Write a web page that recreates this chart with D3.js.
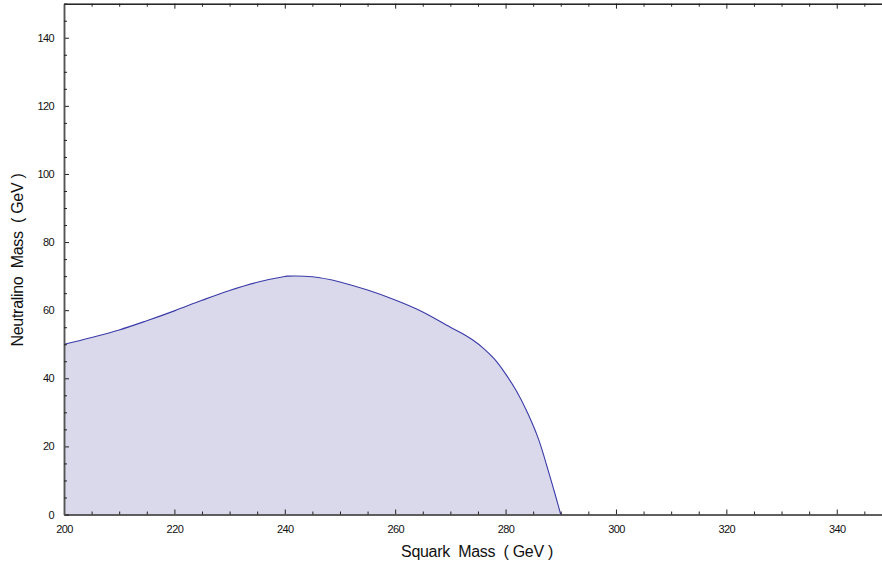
<!DOCTYPE html>
<html><head><meta charset="utf-8">
<script src="https://cdn.jsdelivr.net/npm/d3@7"></script>
<style>body{margin:0;background:#fff}svg{display:block}</style>
</head><body>
<svg id="c" width="882" height="562"></svg>
<script>
// Boundary of the excluded region (Squark mass, Neutralino mass) in GeV
const squarkMass = [200, 205, 210, 215, 220, 225, 230, 235, 240, 240.5, 245, 250, 255, 260, 265, 270, 272, 274, 276, 278, 280, 282, 284, 286, 288, 289, 290];
const neutralinoMass = [50, 52.0, 54.2, 56.9, 59.8, 62.9, 65.8, 68.2, 69.9, 70.0, 69.8, 68.3, 65.9, 63.0, 59.5, 55.0, 53.3, 51.3, 48.8, 45.6, 41.3, 36.2, 29.8, 22.0, 11.4, 5.8, 0];
const xMajorTicks = [200, 220, 240, 260, 280, 300, 320, 340];
const yMajorTicks = [0, 20, 40, 60, 80, 100, 120, 140];
const xTitle = "Squark  Mass  ( GeV )";
const yTitle = "Neutralino  Mass  ( GeV )";

const svg = d3.select("#c");
const x = d3.scaleLinear().domain([200, 348.2]).range([64, 882]);
const y = d3.scaleLinear().domain([0, 150]).range([514.5, 3.7]);

const pts = squarkMass.map((d, i) => [d, neutralinoMass[i]]);
const curve = d3.curveCatmullRom.alpha(0.5);

svg.append("path")
  .datum(pts)
  .attr("fill", "#d9d9eb")
  .attr("d", d3.area().x(d => x(d[0])).y0(y(0)).y1(d => y(d[1])).curve(curve));
svg.append("path")
  .datum(pts)
  .attr("fill", "none")
  .attr("stroke", "#3a3aa8")
  .attr("stroke-width", 1.1)
  .attr("d", d3.line().x(d => x(d[0])).y(d => y(d[1])).curve(curve));

const xMinor = d3.range(200, 350, 5).filter(v => v % 20 !== 0);
const yMinor = d3.range(0, 151, 5).filter(v => v % 20 !== 0);
const fontFam = "'Liberation Sans', Arial, sans-serif";

// bottom axis
const bx = svg.append("g").attr("transform", `translate(0,${y(0)})`);
bx.call(d3.axisBottom(x).tickValues(xMajorTicks).tickSizeInner(-5).tickSizeOuter(0).tickPadding(11));
bx.append("g").call(d3.axisBottom(x).tickValues(xMinor).tickSizeInner(-3).tickSizeOuter(0).tickFormat(""));
// top axis
const tx = svg.append("g").attr("transform", `translate(0,${y(150)})`);
tx.call(d3.axisTop(x).tickValues(xMajorTicks).tickSizeInner(-5).tickSizeOuter(0).tickFormat(""));
tx.append("g").call(d3.axisTop(x).tickValues(xMinor).tickSizeInner(-3).tickSizeOuter(0).tickFormat(""));
// left axis
const ly = svg.append("g").attr("transform", `translate(${x(200)},0)`);
ly.call(d3.axisLeft(y).tickValues(yMajorTicks).tickSizeInner(-5).tickSizeOuter(0).tickPadding(10));
ly.append("g").call(d3.axisLeft(y).tickValues(yMinor).tickSizeInner(-3).tickSizeOuter(0).tickFormat(""));

svg.selectAll(".domain").attr("stroke", "#555").attr("stroke-width", 1.5);
tx.selectAll(".domain").attr("stroke", "#111").attr("stroke-width", 1);
svg.selectAll(".tick line").attr("stroke", "#222");
svg.selectAll(".tick text").attr("font-family", fontFam).attr("font-size", 11).attr("fill", "#111").attr("letter-spacing", -0.6);

svg.append("text").attr("x", 477).attr("y", 557).attr("text-anchor", "middle")
  .attr("font-family", fontFam).attr("font-size", 16).attr("fill", "#111").attr("letter-spacing", -0.3)
  .style("white-space", "pre").text(xTitle);
svg.append("text").attr("transform", "translate(23,260) rotate(-90)").attr("text-anchor", "middle")
  .attr("font-family", fontFam).attr("font-size", 16).attr("fill", "#111").attr("letter-spacing", -0.3)
  .style("white-space", "pre").text(yTitle);
</script>
</body></html>
